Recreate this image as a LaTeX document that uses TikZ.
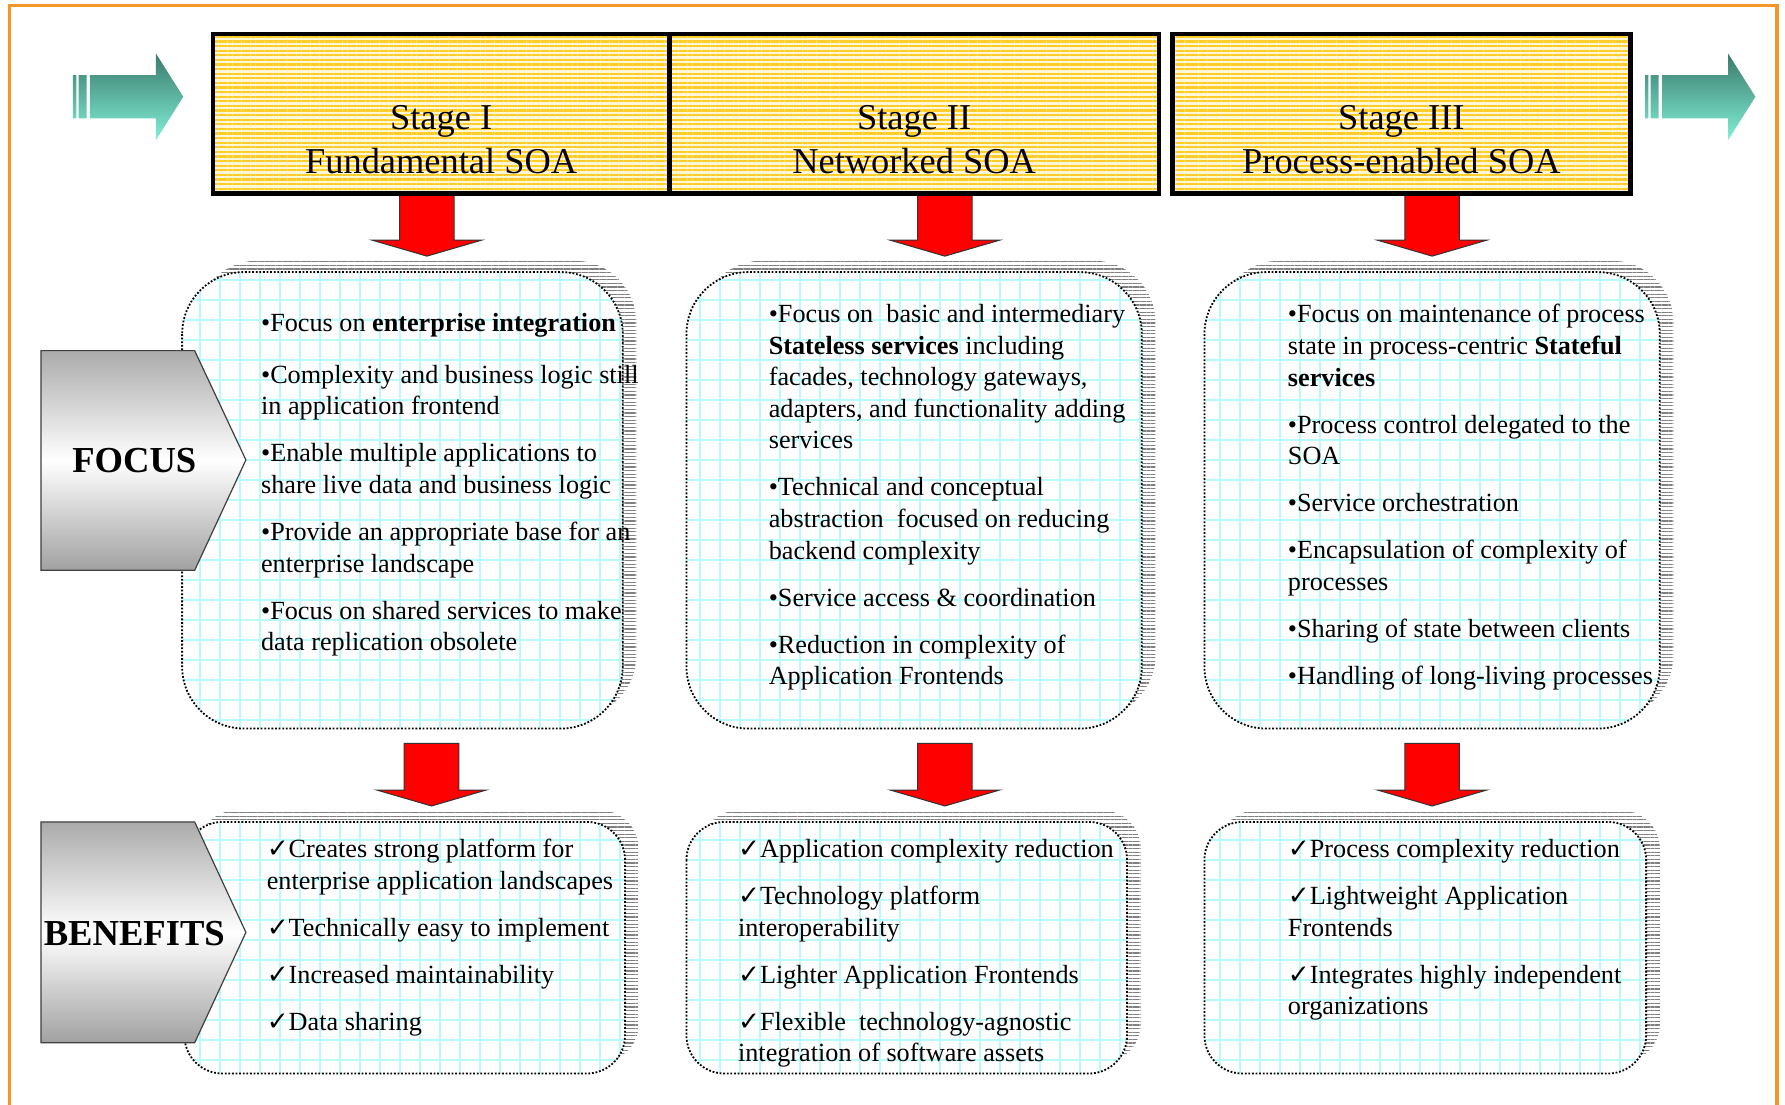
\documentclass[tikz,border=0pt]{standalone}
\usepackage{fontspec}
\setmainfont{Liberation Serif}
\newfontfamily\symbfont{DejaVu Sans}
\usetikzlibrary{patterns.meta}
\definecolor{frameorange}{RGB}{247,150,40}
\definecolor{stripeyellow}{RGB}{255,204,40}
\definecolor{stripebg}{RGB}{255,247,214}
\definecolor{gridcyan}{RGB}{185,250,250}
\definecolor{tealdark}{RGB}{58,122,108}
\definecolor{teallight}{RGB}{130,240,214}
\newcommand{\checkmk}{{\symbfont ✓}}

\tikzset{
  stagebox/.style={draw=black, line width=2.3pt, preaction={fill=stripebg},
    pattern={Lines[distance=2.3pt,line width=1.1pt]}, pattern color=stripeyellow},
  stagetext/.style={anchor=north, inner sep=0pt, align=center,
    font=\fontsize{18.2pt}{22.2pt}\selectfont},
  redarrow/.style={fill=red, draw=black!80, line width=0.5pt},
  tealarrow/.style={top color=tealdark, bottom color=teallight},
  shadowlines/.style={pattern={Lines[distance=1.8pt,line width=0.6pt]}, pattern color=black!50},
  gridline/.style={draw=gridcyan, line width=0.7pt, step=10pt},
  dotborder/.style={draw=black, line width=0.9pt, dash pattern=on 0.9pt off 0.9pt},
  bodytext/.style={anchor=north west, inner sep=0pt, align=left,
    font=\fontsize{13.1pt}{15.8pt}\selectfont},
  chevron/.style={top color=black!33, bottom color=black!37, middle color=white,
    draw=black!75, line width=0.6pt},
  chevlabel/.style={inner sep=0pt, font=\fontsize{18.3pt}{22pt}\selectfont\bfseries}
}

\begin{document}
\begin{tikzpicture}[x=0.02cm, y=-0.02cm]
    \useasboundingbox (0,0) rectangle (1568,970);
    \fill[white] (0,0) rectangle (1568,970);
    % frame
    \draw[frameorange, line width=1.6pt] (8,975) -- (8,5) -- (1561,5) -- (1561,975);

    % teal arrows left and right
    \foreach \ax in {64,1445}{
        \shade[tealarrow] (\ax,66) rectangle ({\ax+3},104)
            ({\ax+5},66) rectangle ({\ax+12},104)
            ({\ax+15},66) -- ({\ax+73},66) -- ({\ax+73},47) -- ({\ax+97},85)
            -- ({\ax+73},123) -- ({\ax+73},104) -- ({\ax+15},104) -- cycle;
    }

    % red arrows
    \foreach \cx/\ty in {375/170, 830/170, 1258/170, 379/653, 830/653, 1258/653}{
        \draw[redarrow] ({\cx-24},\ty) -- ({\cx+24},\ty) -- ({\cx+24},{\ty+41})
            -- ({\cx+48},{\ty+41}) -- (\cx,{\ty+55}) -- ({\cx-48},{\ty+41})
            -- ({\cx-24},{\ty+41}) -- cycle;
    }

    % stage boxes
    \draw[stagebox] (187,30) rectangle (588,170);
    \draw[stagebox] (588,30) rectangle (1018,170);
    \draw[stagebox] (1030,30) rectangle (1432,170);
    \node[stagetext] (stageI) at (387.5,92) {Stage I\\Fundamental SOA};
    \node[stagetext] (stageII) at (803,92) {Stage II\\Networked SOA};
    \node[stagetext] (stageIII) at (1231,92) {Stage III\\Process-enabled SOA};

    % focus and benefits boxes with shadow
    \foreach \xa/\ya/\xb/\yb/\r in {160/239/547/640/31pt, 603/239/1003/640/31pt,
        1058/239/1458/640/31pt, 162/722/549/943/19pt, 603/722/990/943/19pt,
        1058/722/1446/943/19pt}{
        \path[shadowlines, rounded corners=\r] ({\xa+12},{\ya-10}) rectangle ({\xb+12},{\yb-10});
        \begin{scope}
            \clip[rounded corners=\r] (\xa,\ya) rectangle (\xb,\yb);
            \fill[white] (\xa,\ya) rectangle (\xb,\yb);
            \draw[gridline] (\xa,\yb) grid (\xb,\ya);
        \end{scope}
        \draw[dotborder, rounded corners=\r] (\xa,\ya) rectangle (\xb,\yb);
    }

    \node[bodytext] (focusI) at (229,275) {•Focus on \textbf{enterprise integration}\\[10pt]
        •Complexity and business logic still\\
        in application frontend\\[7.7pt]
        •Enable multiple applications to\\
        share live data and business logic\\[7.7pt]
        •Provide an appropriate base for an\\
        enterprise landscape\\[7.7pt]
        •Focus on shared services to make\\
        data replication obsolete};
    \node[bodytext] (focusII) at (675,267) {•Focus on~ basic and intermediary\\
        \textbf{Stateless services} including\\
        facades, technology gateways,\\
        adapters, and functionality adding\\
        services\\[7.7pt]
        •Technical and conceptual\\
        abstraction~ focused on reducing\\
        backend complexity\\[7.7pt]
        •Service access \& coordination\\[7.7pt]
        •Reduction in complexity of\\
        Application Frontends};
    \node[bodytext] (focusIII) at (1131,267) {•Focus on maintenance of process\\
        state in process-centric \textbf{Stateful}\\
        \textbf{services}\\[7.7pt]
        •Process control delegated to the\\
        SOA\\[7.7pt]
        •Service orchestration\\[7.7pt]
        •Encapsulation of complexity of\\
        processes\\[7.7pt]
        •Sharing of state between clients\\[7.7pt]
        •Handling of long-living processes};

    \node[bodytext] (benefitsI) at (234,737) {\checkmk Creates strong platform for\\
        enterprise application landscapes\\[7.7pt]
        \checkmk Technically easy to implement\\[7.7pt]
        \checkmk Increased maintainability\\[7.7pt]
        \checkmk Data sharing};
    \node[bodytext] (benefitsII) at (648,737) {\checkmk Application complexity reduction\\[7.7pt]
        \checkmk Technology platform\\
        interoperability\\[7.7pt]
        \checkmk Lighter Application Frontends\\[7.7pt]
        \checkmk Flexible~ technology-agnostic\\
        integration of software assets};
    \node[bodytext] (benefitsIII) at (1131,737) {\checkmk Process complexity reduction\\[7.7pt]
        \checkmk Lightweight Application\\
        Frontends\\[7.7pt]
        \checkmk Integrates highly independent\\
        organizations};

    % side chevrons
    \shade[chevron] (36,308) -- (171,308) -- (216,404) -- (171,501) -- (36,501) -- cycle;
    \shade[chevron] (36,722) -- (171,722) -- (216,819) -- (171,916) -- (36,916) -- cycle;
    \node[chevlabel] (focuslbl) at (118,405) {FOCUS};
    \node[chevlabel] (benefitslbl) at (118,820) {BENEFITS};
\end{tikzpicture}
\end{document}
